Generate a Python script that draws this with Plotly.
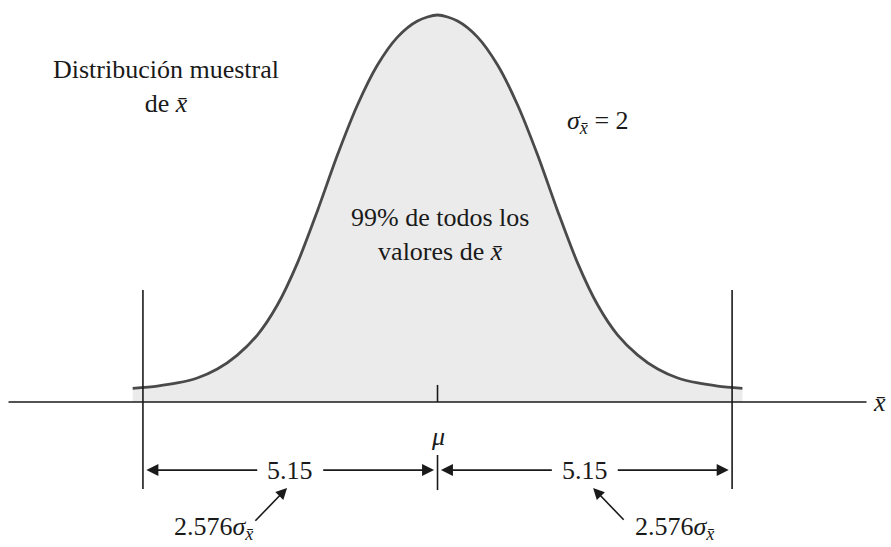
import plotly.graph_objects as go

# Sampling distribution of x-bar (horizontal unit: offset from mu, sigma_xbar = 2)
curve_x = [-5.33, -4.90, -4.55, -4.20, -3.85, -3.50, -3.15, -2.80, -2.45, -2.10,
           -1.75, -1.40, -1.05, -0.70, -0.35, 0.00, 0.35, 0.70, 1.05, 1.40, 1.75,
           2.10, 2.45, 2.80, 3.15, 3.50, 3.85, 4.20, 4.55, 4.90, 5.33]
curve_y = [0.0070, 0.0082, 0.0098, 0.0124, 0.0170, 0.0242, 0.0345, 0.0500, 0.0716,
           0.0985, 0.1273, 0.1531, 0.1737, 0.1881, 0.1964, 0.1995, 0.1964, 0.1881,
           0.1737, 0.1531, 0.1273, 0.0985, 0.0716, 0.0500, 0.0345, 0.0242, 0.0170,
           0.0124, 0.0098, 0.0082, 0.0070]

sigma_xbar = 2
half_width = 5.15          # 2.576 * sigma_xbar, as labelled
half_width_label = "5.15"
z_label = "2.576<i>σ</i><sub><i>x̄</i></sub>"

FONT = "Times New Roman, Liberation Serif, serif"
FS = 26
INK = "#1a1a1a"

fig = go.Figure()

fig.add_trace(go.Scatter(
    x=curve_x, y=curve_y, mode="lines",
    line=dict(color="#4a4a4a", width=2.8, shape="spline", smoothing=0.8),
    fill="tozeroy", fillcolor="rgba(200,200,200,0.36)",
    hoverinfo="skip", showlegend=False,
))

shapes = []
# horizontal x-bar axis
shapes.append(dict(type="line", x0=-7.5, x1=7.5, y0=0, y1=0,
                   line=dict(color=INK, width=1.6)))
# limits at mu +/- 5.15
for s in (-1, 1):
    shapes.append(dict(type="line", x0=s * half_width, x1=s * half_width,
                       y0=-0.0448, y1=0.0577, line=dict(color=INK, width=1.6)))
# tick at mu above the axis and in the dimension row
shapes.append(dict(type="line", x0=0, x1=0, y0=0, y1=0.0088,
                   line=dict(color=INK, width=1.6)))
shapes.append(dict(type="line", x0=0, x1=0, y0=-0.0454, y1=-0.0273,
                   line=dict(color=INK, width=1.6)))

ann = []
dim_y = -0.0351
gap = 0.55


def arrow(x_tip, y_tip, x_tail, y_tail, head=2, size=1.5):
    return dict(x=x_tip, y=y_tip, ax=x_tail, ay=y_tail, xref="x", yref="y",
                axref="x", ayref="y", text="", showarrow=True,
                arrowhead=head, arrowsize=size, arrowwidth=1.6,
                arrowcolor=INK, standoff=0, startstandoff=0)


def label(x, y, text, xanchor="center", align="center"):
    return dict(x=x, y=y, text=text, showarrow=False, align=align,
                font=dict(family=FONT, size=FS, color=INK),
                xanchor=xanchor, yanchor="middle")


# dimension arrows on either side of mu
for s in (-1, 1):
    mid = s * half_width / 2
    ann.append(arrow(s * (half_width - 0.06), dim_y, mid + s * gap, dim_y))
    ann.append(arrow(s * 0.06, dim_y, mid - s * gap, dim_y))
    ann.append(label(mid, dim_y, half_width_label))

# pointers from the 2.576 sigma labels to the 5.15 values
ann.append(arrow(-2.63, -0.0443, -3.21, -0.0620, size=1.4))
ann.append(arrow(2.72, -0.0443, 3.28, -0.0615, size=1.4))
ann.append(label(-3.91, -0.0650, z_label))
ann.append(label(4.15, -0.0650, z_label))

# axis symbols
ann.append(label(0, -0.0180, "<i>μ</i>"))
ann.append(label(7.72, 0.0, "<i>x̄</i>"))

# descriptive labels
ann.append(label(-4.75, 0.1624, "Distribución muestral<br>de <i>x̄</i>"))
ann.append(label(2.23, 0.1443, f"<i>σ</i><sub><i>x̄</i></sub> = {sigma_xbar}",
                 xanchor="left"))
ann.append(label(0.04, 0.0866, "99% de todos los<br>valores de <i>x̄</i>"))

fig.update_layout(
    width=891, height=547,
    margin=dict(l=0, r=0, t=0, b=0),
    paper_bgcolor="white", plot_bgcolor="white",
    xaxis=dict(range=[-7.649, 7.928], visible=False, fixedrange=True),
    yaxis=dict(range=[-0.07474, 0.20722], visible=False, fixedrange=True),
    shapes=shapes, annotations=ann, showlegend=False,
)

fig.write_html("out.html")
